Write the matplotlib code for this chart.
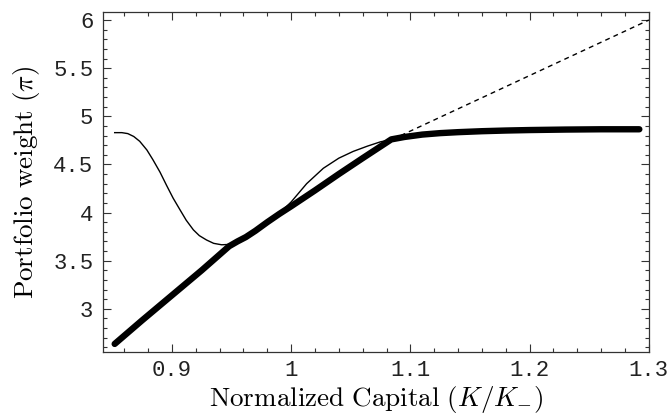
import numpy as np
import matplotlib
matplotlib.use('Agg')
import matplotlib.pyplot as plt
from matplotlib.ticker import MultipleLocator

# thick curve
capThick = [0.852, 0.875, 0.90, 0.925, 0.948, 0.955, 0.962, 0.970, 0.980, 0.990,
            1.0, 1.02, 1.04, 1.06, 1.084, 1.095, 1.11, 1.125, 1.14, 1.16, 1.18, 1.2, 1.23, 1.26, 1.292]
wThick = [2.635, 2.88, 3.14, 3.40, 3.65, 3.70, 3.745, 3.81, 3.90, 3.985,
          4.065, 4.23, 4.40, 4.565, 4.76, 4.785, 4.81, 4.825, 4.835, 4.845, 4.852, 4.857, 4.862, 4.865, 4.865]

# thin curve
capThin = [0.852, 0.858, 0.863, 0.868, 0.873, 0.879, 0.884, 0.890, 0.8956, 0.901, 0.9067, 0.912,
           0.918, 0.923, 0.929, 0.935, 0.9417, 0.95, 0.955, 0.962, 0.970, 0.980, 0.990,
           1.0, 1.013, 1.027, 1.04, 1.052, 1.064, 1.075, 1.085]
wThin = [4.83, 4.83, 4.82, 4.79, 4.74, 4.65, 4.55, 4.42, 4.28, 4.15, 4.03, 3.92,
         3.82, 3.76, 3.715, 3.68, 3.665, 3.67, 3.70, 3.745, 3.81, 3.90, 3.99,
         4.11, 4.30, 4.46, 4.565, 4.635, 4.69, 4.735, 4.76]

# dashed line
capDash = [1.085, 1.30]
wDash = [4.76, 6.0]

plt.rcParams['mathtext.fontset'] = 'cm'

fig = plt.figure(figsize=(6.71, 4.15), dpi=100)
ax = fig.add_axes([0.1535, 0.152, 0.8135, 0.819])

ax.plot(capThin, wThin, '-', color='black', lw=1.0)
ax.plot(capDash, wDash, color='black', lw=1.0, dashes=(3.5, 3))
ax.plot(capThick, wThick, '-', color='black', lw=4.6, solid_capstyle='round', solid_joinstyle='round')

ax.set_xlim(0.8422, 1.3)
ax.set_ylim(2.552, 6.083)
ax.xaxis.set_minor_locator(MultipleLocator(0.02))
ax.yaxis.set_minor_locator(MultipleLocator(0.1))
ax.set_xticks([0.9, 1.0, 1.1, 1.2, 1.3])
ax.set_xticklabels(['0.9', '1', '1.1', '1.2', '1.3'])
ax.set_yticks([3, 3.5, 4, 4.5, 5, 5.5, 6])
ax.set_yticklabels(['3', '3.5', '4', '4.5', '5', '5.5', '6'])

ax.tick_params(which='both', direction='in', top=True, right=True, width=0.8, color='#333333')
ax.tick_params(which='major', length=6, labelsize=16)
ax.tick_params(axis='x', which='major', pad=6)
ax.tick_params(axis='y', which='major', pad=7)
ax.tick_params(which='minor', length=3)
for lab in ax.get_xticklabels() + ax.get_yticklabels():
    lab.set_family('Liberation Mono')
    lab.set_color('#222222')
for sp in ax.spines.values():
    sp.set_linewidth(0.9)
    sp.set_color('#333333')

ax.set_xlabel(r'$\mathrm{Normalized\ Capital\ }(K/K_{-})$', fontsize=19.5, labelpad=2)
ax.set_ylabel(r'$\mathrm{Portfolio\ weight\ }(\pi)$', fontsize=19.5, labelpad=8)

fig.savefig('out.png', dpi=100)
